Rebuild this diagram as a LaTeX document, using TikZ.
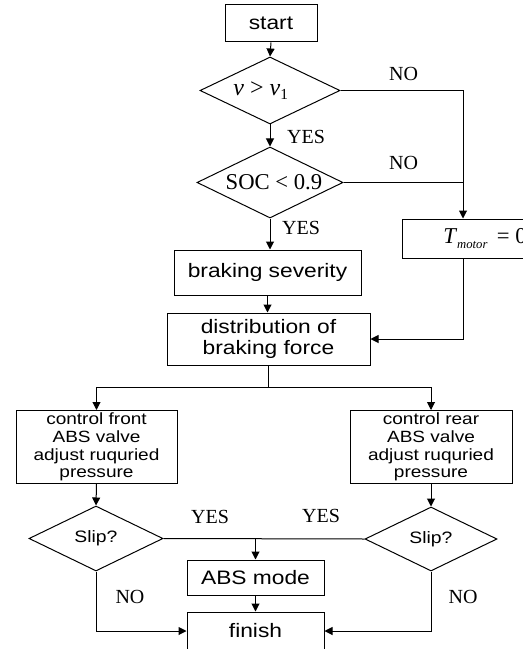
\documentclass[tikz,border=0pt]{standalone}
\usepackage{fontspec}
\setmainfont{Liberation Serif}
\newfontfamily\boxfont[FakeStretch=1.17]{Liberation Sans}
\usetikzlibrary{shapes.geometric,arrows.meta}

\begin{document}
\begin{tikzpicture}[x=0.75pt,y=0.75pt,yscale=-1,xscale=1,line width=0.75pt,
  box/.style={draw,rectangle,inner sep=0pt,align=center,font={\boxfont\fontsize{14.6}{15.75}\selectfont}},
  smallbox/.style={box,font={\boxfont\fontsize{12.2}{13.2}\selectfont}},
  test/.style={draw,diamond,inner sep=0pt,aspect=2.05,font={\fontsize{17}{17}\selectfont}},
  slip/.style={test,font={\boxfont\fontsize{12.4}{12.4}\selectfont}},
  lbl/.style={inner sep=0pt,font={\fontsize{15}{15}\selectfont}},
  arr/.style={-{Triangle[length=6pt,width=6pt]}}]
\useasboundingbox (0,0) rectangle (523,649);
\clip (0,0) rectangle (523,649);

%Start and the two tests
\node[box,minimum width=69pt,minimum height=27.75pt] (start) at (271,23.5) {start};
\node[test,minimum width=105pt,minimum height=50.25pt] (speed) at (270,90.5) {\fontsize{18}{18}\selectfont\textit{v} > \textit{v}\raisebox{-3pt}{\fontsize{11.5}{11.5}\selectfont 1}\hspace*{14pt}};
\node[test,minimum width=109.5pt,minimum height=53.25pt] (soc) at (270,182.5) {\hspace*{6pt}SOC < 0.9};
\node[box,minimum width=124.5pt,minimum height=29.25pt,font={\fontsize{17}{17}\selectfont}] (tmotor) at (485,238.5) {\textit{T}\raisebox{-4pt}{\fontsize{9.5}{9.5}\selectfont\itshape motor}\, = 0};
\coordinate (nojoin) at (463,0);

%Braking boxes
\node[box,minimum width=140.25pt,minimum height=33.75pt] (severity) at (267.5,272.5) {braking severity};
\node[box,minimum width=152.25pt,minimum height=39pt] (distrib) at (268.5,339) {distribution of\\braking force};

%Front and rear valves
\node[smallbox,minimum width=120.75pt,minimum height=54.75pt] (front) at (96.5,447) {control front\\ABS valve\\adjust ruquried\\pressure};
\node[smallbox,minimum width=121.5pt,minimum height=54.75pt] (rear) at (431,447) {control rear\\ABS valve\\adjust ruquried\\pressure};
\node[slip,minimum width=100.5pt,minimum height=48.75pt] (slipf) at (96,538.5) {Slip?};
\node[slip,minimum width=99pt,minimum height=48pt] (slipr) at (431,539) {Slip?};
\node[box,minimum width=102.75pt,minimum height=26.25pt] (absmode) at (255.5,577.5) {ABS mode};
\node[box,minimum width=102.75pt,minimum height=28.5pt] (finish) at (255.5,631) {finish};

%Labels
\node[lbl] (no1) at (403.5,74) {NO};
\node[lbl] (no2) at (403.5,163) {NO};
\node[lbl] (yes1) at (306,137) {YES};
\node[lbl] (yes2) at (301,228) {YES};
\node[lbl] (yes3) at (210,517) {YES};
\node[lbl] (yes4) at (321,516) {YES};
\node[lbl] (no3) at (130,597) {NO};
\node[lbl] (no4) at (463,597) {NO};

%Connectors
\draw[arr] (start.south) -- (speed.north);
\draw[arr] (speed.south) -- (soc.north);
\draw[arr] (speed.east) -| (nojoin |- tmotor.north);
\draw (soc.east) -- (nojoin |- soc.east);
\draw[arr] (soc.south) -- (soc.south |- severity.north);
\draw[arr] (severity.south) -- (severity.south |- distrib.north);
\draw[arr] (nojoin |- tmotor.south) |- (distrib.east);
\draw[arr] (distrib.south) -- ++(0,22) -| (front.north);
\draw[arr] (distrib.south) -- ++(0,22) -| (rear.north);
\draw[arr] (front.south) -- (slipf.north);
\draw[arr] (rear.south) -- (slipr.north);
\draw (slipf.east) -- (slipr.west);
\draw[arr] (slipf.east -| absmode.north) -- (absmode.north);
\draw[arr] (absmode.south) -- (finish.north);
\draw[arr] (slipf.south) |- (finish.west);
\draw[arr] (slipr.south) |- (finish.east);

\end{tikzpicture}
\end{document}
